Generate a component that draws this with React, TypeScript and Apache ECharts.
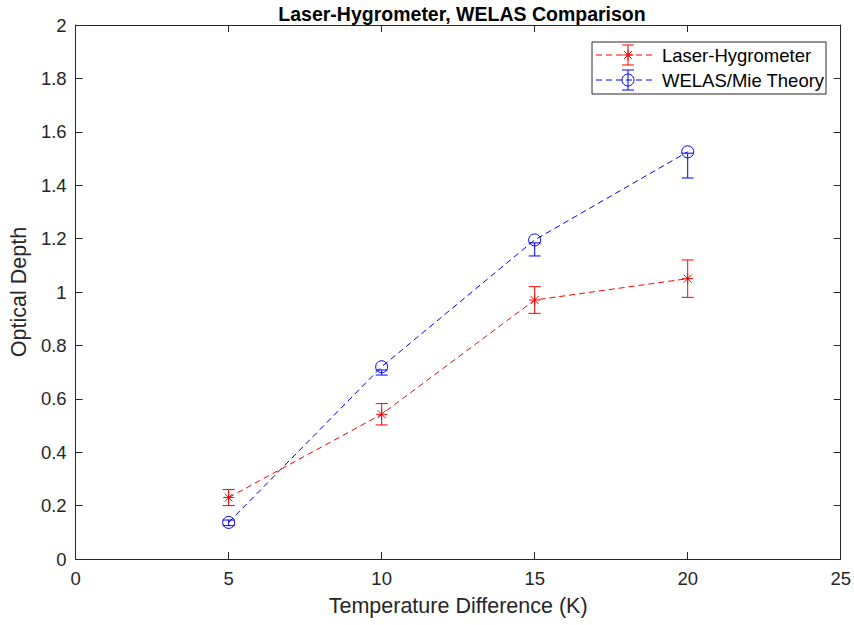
import React, { useEffect, useRef } from "react";
import * as echarts from "echarts";

const titleText = "Laser-Hygrometer, WELAS Comparison";
const xLabel = "Temperature Difference (K)";
const yLabel = "Optical Depth";
const seriesNames = ["Laser-Hygrometer", "WELAS/Mie Theory"];

const temps = [5, 10, 15, 20];
const laserDepth = [0.23, 0.542, 0.97, 1.05];
const laserErr = [0.03, 0.04, 0.05, 0.07];
const welasDepth = [0.137, 0.72, 1.195, 1.525];
const welasLow = [0.125, 0.689, 1.135, 1.427];
const welasHigh = [0.146, 0.708, 1.184, 1.52];

const xTicks = [0, 5, 10, 15, 20, 25];
const yTickLabels = ["0", "0.2", "0.4", "0.6", "0.8", "1", "1.2", "1.4", "1.6", "1.8", "2"];

const RED = "#ff0000";
const BLUE = "#0000ff";
const AX = "#262626";
const FONT = "'Liberation Sans', Arial, Helvetica, sans-serif";

function asteriskShapes(cx: number, cy: number, r: number, color: string) {
  const d = r * 0.72;
  const segs = [
    [cx, cy - r, cx, cy + r],
    [cx - r, cy, cx + r, cy],
    [cx - d, cy - d, cx + d, cy + d],
    [cx - d, cy + d, cx + d, cy - d],
  ];
  return segs.map((s) => ({
    type: "line",
    shape: { x1: s[0], y1: s[1], x2: s[2], y2: s[3] },
    style: { stroke: color, lineWidth: 1 },
  }));
}

function errorBarShapes(x: number, yLo: number, yHi: number, half: number, color: string) {
  return [
    { type: "line", shape: { x1: x, y1: yLo, x2: x, y2: yHi }, style: { stroke: color, lineWidth: 1 } },
    { type: "line", shape: { x1: x - half, y1: yLo, x2: x + half, y2: yLo }, style: { stroke: color, lineWidth: 1 } },
    { type: "line", shape: { x1: x - half, y1: yHi, x2: x + half, y2: yHi }, style: { stroke: color, lineWidth: 1 } },
  ];
}

export default function App() {
  const ref = useRef<HTMLDivElement>(null);
  useEffect(() => {
    if (!ref.current) return;
    const chart = echarts.init(ref.current, undefined, { renderer: "svg" });

    const laserData = temps.map((t, i) => [t, laserDepth[i], laserDepth[i] - laserErr[i], laserDepth[i] + laserErr[i]]);
    const welasData = temps.map((t, i) => [t, welasDepth[i], welasLow[i], welasHigh[i]]);

    const makeRender = (kind: "star" | "circle", color: string) => (params: any, api: any) => {
      const x = api.value(0);
      const p = api.coord([x, api.value(1)]);
      const lo = api.coord([x, api.value(2)]);
      const hi = api.coord([x, api.value(3)]);
      const children: any[] = errorBarShapes(p[0], lo[1], hi[1], 6, color);
      if (kind === "star") {
        children.push(...asteriskShapes(p[0], p[1], 5.5, color));
      } else {
        children.push({
          type: "circle",
          shape: { cx: p[0], cy: p[1], r: 6 },
          style: { fill: "none", stroke: color, lineWidth: 1 },
        });
      }
      return { type: "group", children };
    };

    // legend graphic
    const lgX = 592, lgY = 42, lgW = 234, lgH = 52;
    const rowY = [55, 80];
    const legendChildren: any[] = [
      { type: "rect", shape: { x: lgX, y: lgY, width: lgW, height: lgH }, style: { fill: "#fff", stroke: AX, lineWidth: 1 } },
    ];
    [RED, BLUE].forEach((c, i) => {
      const y = rowY[i];
      legendChildren.push({
        type: "line",
        shape: { x1: 596, y1: y, x2: 652, y2: y },
        style: { stroke: c, lineWidth: 1, lineDash: [6, 4] },
      });
      legendChildren.push(...errorBarShapes(628, y + 10, y - 10, 6, c));
      if (i === 0) legendChildren.push(...asteriskShapes(628, y, 5.5, c));
      else legendChildren.push({ type: "circle", shape: { cx: 628, cy: y, r: 6 }, style: { fill: "none", stroke: c, lineWidth: 1 } });
      legendChildren.push({
        type: "text",
        style: { x: 662, y, text: seriesNames[i], font: `18.5px ${FONT}`, fill: "#000", verticalAlign: "middle", textAlign: "left" },
      });
    });

    const commonAxisLine = { show: true, onZero: false, lineStyle: { color: AX, width: 1 } };
    const tick = { show: true, inside: false, length: -7, lineStyle: { color: AX } };

    chart.setOption({
      animation: false,
      backgroundColor: "#fff",
      textStyle: { fontFamily: FONT },
      title: {
        text: titleText,
        left: 457,
        textAlign: "center",
        top: -1,
        textStyle: { fontSize: 19.5, fontWeight: "bold", color: "#000", fontFamily: FONT },
      },
      grid: { left: 73, right: 13, top: 25, bottom: 66, containLabel: false },
      xAxis: [
        {
          type: "value",
          min: xTicks[0],
          max: xTicks[xTicks.length - 1],
          interval: 5,
          position: "bottom",
          name: xLabel,
          nameLocation: "middle",
          nameGap: 36,
          nameTextStyle: { fontSize: 21.5, color: AX, fontFamily: FONT },
          axisLine: commonAxisLine,
          axisTick: tick,
          axisLabel: { fontSize: 18.5, color: AX, margin: 10, fontFamily: FONT },
          splitLine: { show: false },
        },
        {
          type: "value",
          min: xTicks[0],
          max: xTicks[xTicks.length - 1],
          interval: 5,
          position: "top",
          axisLine: commonAxisLine,
          axisTick: tick,
          axisLabel: { show: false },
          splitLine: { show: false },
        },
      ],
      yAxis: [
        {
          type: "value",
          min: 0,
          max: 2,
          interval: 0.2,
          position: "left",
          name: yLabel,
          nameLocation: "middle",
          nameGap: 42,
          nameTextStyle: { fontSize: 21.5, color: AX, fontFamily: FONT },
          axisLine: commonAxisLine,
          axisTick: tick,
          axisLabel: {
            fontSize: 18.5,
            color: AX,
            margin: 9,
            fontFamily: FONT,
            formatter: (v: number) => yTickLabels[Math.round(v / 0.2)] ?? String(v),
          },
          splitLine: { show: false },
        },
        {
          type: "value",
          min: 0,
          max: 2,
          interval: 0.2,
          position: "right",
          axisLine: commonAxisLine,
          axisTick: tick,
          axisLabel: { show: false },
          splitLine: { show: false },
        },
      ],
      series: [
        {
          name: seriesNames[0],
          type: "line",
          data: temps.map((t, i) => [t, laserDepth[i]]),
          showSymbol: false,
          lineStyle: { color: RED, width: 1, type: [6, 4] },
          itemStyle: { color: RED },
          z: 2,
        },
        {
          name: seriesNames[1],
          type: "line",
          data: temps.map((t, i) => [t, welasDepth[i]]),
          showSymbol: false,
          lineStyle: { color: BLUE, width: 1, type: [6, 4] },
          itemStyle: { color: BLUE },
          z: 2,
        },
        {
          name: seriesNames[0] + " err",
          type: "custom",
          data: laserData,
          encode: { x: 0, y: [1, 2, 3] },
          renderItem: makeRender("star", RED),
          z: 3,
        },
        {
          name: seriesNames[1] + " err",
          type: "custom",
          data: welasData,
          encode: { x: 0, y: [1, 2, 3] },
          renderItem: makeRender("circle", BLUE),
          z: 3,
        },
      ],
      graphic: [{ type: "group", children: legendChildren, z: 100 }],
    });

    return () => chart.dispose();
  }, []);

  return (
    <div
      ref={ref}
      style={{ position: "fixed", left: 0, top: 0, width: 854, height: 625, background: "#fff" }}
    />
  );
}
